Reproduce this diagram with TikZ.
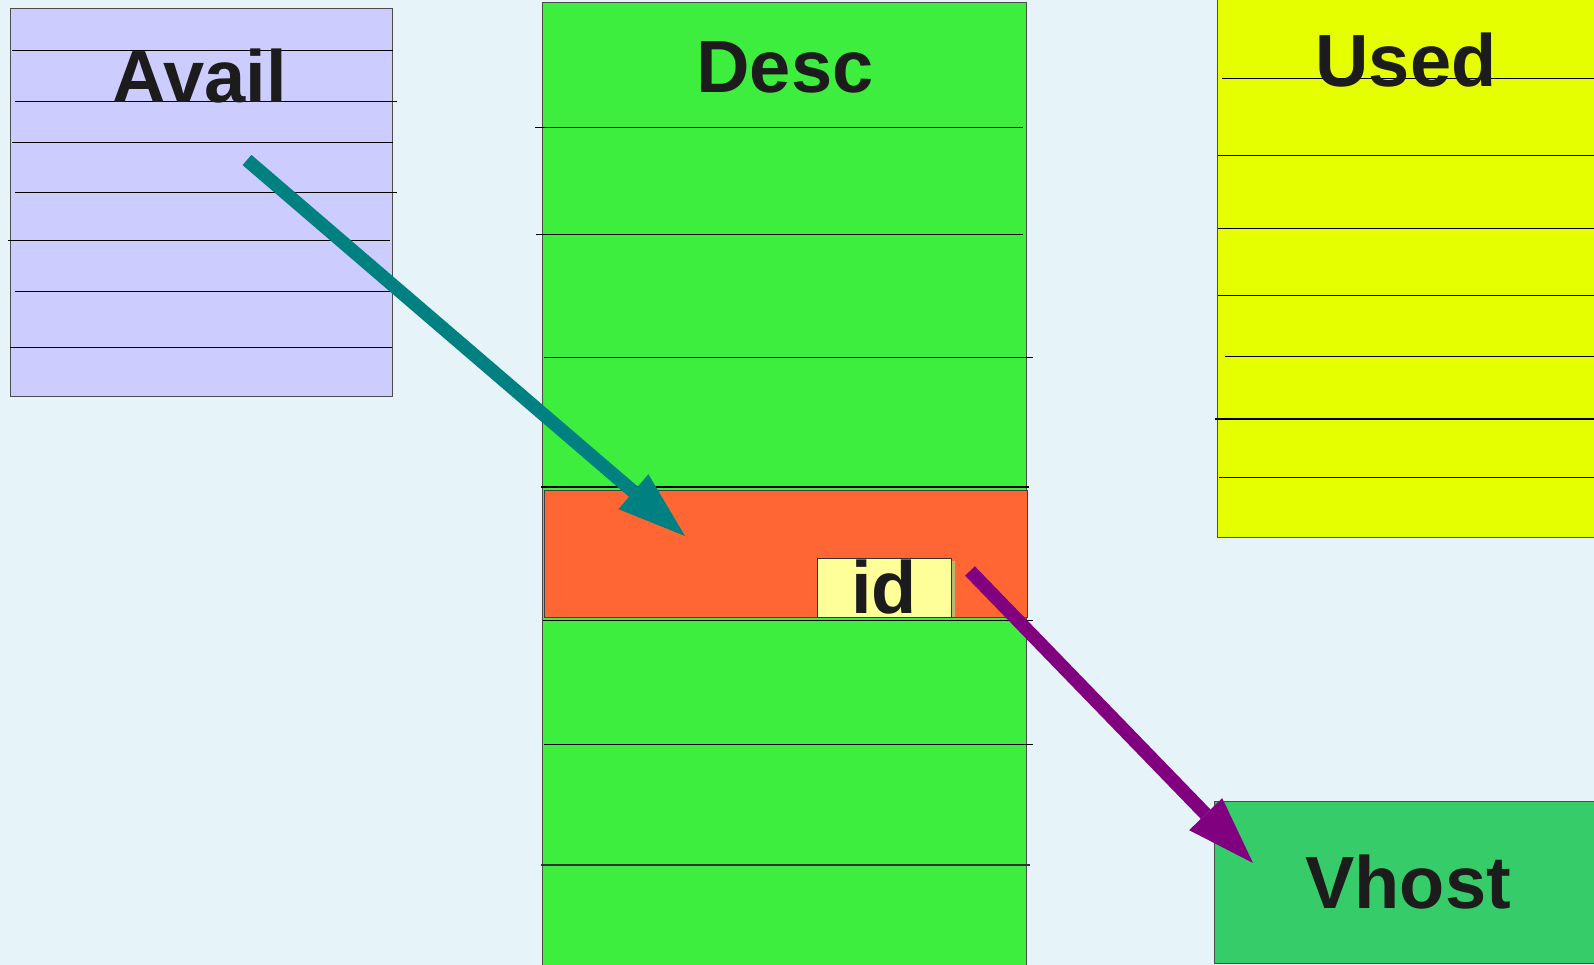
\documentclass[tikz,border=0pt]{standalone}
\usepackage{fontspec}
\setmainfont{Liberation Sans}
\usetikzlibrary{arrows.meta}

\definecolor{bgblue}{HTML}{E6F3F9}
\definecolor{availblue}{HTML}{CCCCFF}
\definecolor{descgreen}{HTML}{3EEE3E}
\definecolor{slotorange}{HTML}{FF6633}
\definecolor{idyellow}{HTML}{FFFF99}
\definecolor{idshadow}{HTML}{B8B870}
\definecolor{usedyellow}{HTML}{E6FF00}
\definecolor{vhostgreen}{HTML}{36CC6A}
\definecolor{txtgray}{HTML}{1C1C1C}
\definecolor{ptrteal}{HTML}{008080}
\definecolor{ptrpurple}{HTML}{800080}

\tikzset{
  ring/.style={draw=black!70, line width=1pt},
  rowline/.style={black, line width=1pt},
  title/.style={text=txtgray, font=\fontsize{74}{80}\selectfont\bfseries, anchor=base, inner sep=0pt},
  ptr/.style={line width=13.5pt, -{Triangle[length=68pt,width=46pt,line width=0pt]}},
}

\begin{document}
\begin{tikzpicture}[x=1pt,y=-1pt]
\useasboundingbox (0,0) rectangle (1594,965);
\fill[bgblue] (0,0) rectangle (1594,965);

% avail ring
\draw[ring,fill=availblue] (10,9) rectangle (392,396);
\foreach \y/\a/\b in {51/12/393, 102/15/397, 143/12/393, 193/15/397, 241/8/390, 292/15/392, 347/10/392}
  \draw[rowline] (\a,\y) -- (\b,\y);
\node[title] (avail) at (200,103) {Avail};

% descriptor table
\draw[ring,fill=descgreen] (542,3) rectangle (1026,975);
\draw[draw=black!75,fill=slotorange] (544,490) rectangle (1027,617);
\foreach \y/\a/\b in {128/535/1023, 235/536/1023, 357/544/1033, 620/543/1033, 744/544/1033}
  \draw[rowline] (\a,\y) -- (\b,\y);
\draw[rowline,line width=1.8pt] (541,487) -- (1029,487);
\draw[rowline,line width=1.8pt,black!80] (541,865) -- (1030,865);
\node[title] (desc) at (785,93) {Desc};

% id field
\fill[idshadow] (820,561) rectangle (955,617);
\draw[draw=black!80,fill=idyellow] (817,558) rectangle (951,617);
\node[title] (id) at (884,613) {id};

% used ring
\draw[ring,fill=usedyellow] (1217,-5) rectangle (1600,537);
\foreach \y/\a in {79/1222, 156/1218, 229/1218, 296/1218, 356/1225, 477/1219}
  \draw[rowline] (\a,\y) -- (1600,\y);
\draw[rowline,line width=1.6pt] (1215,419) -- (1600,419);
\node[title] (used) at (1406,87) {Used};

% vhost
\draw[ring,fill=vhostgreen] (1214,801) rectangle (1600,963);
\node[title] (vhost) at (1408,908) {Vhost};

% pointers
\coordinate (availslot) at (247,160);
\coordinate (descslot) at (685,536);
\coordinate (idptr) at (970,571);
\coordinate (vhostin) at (1253,863);
\draw[ptr,ptrteal] (availslot) -- (descslot);
\draw[ptr,ptrpurple] (idptr) -- (vhostin);
\end{tikzpicture}
\end{document}
